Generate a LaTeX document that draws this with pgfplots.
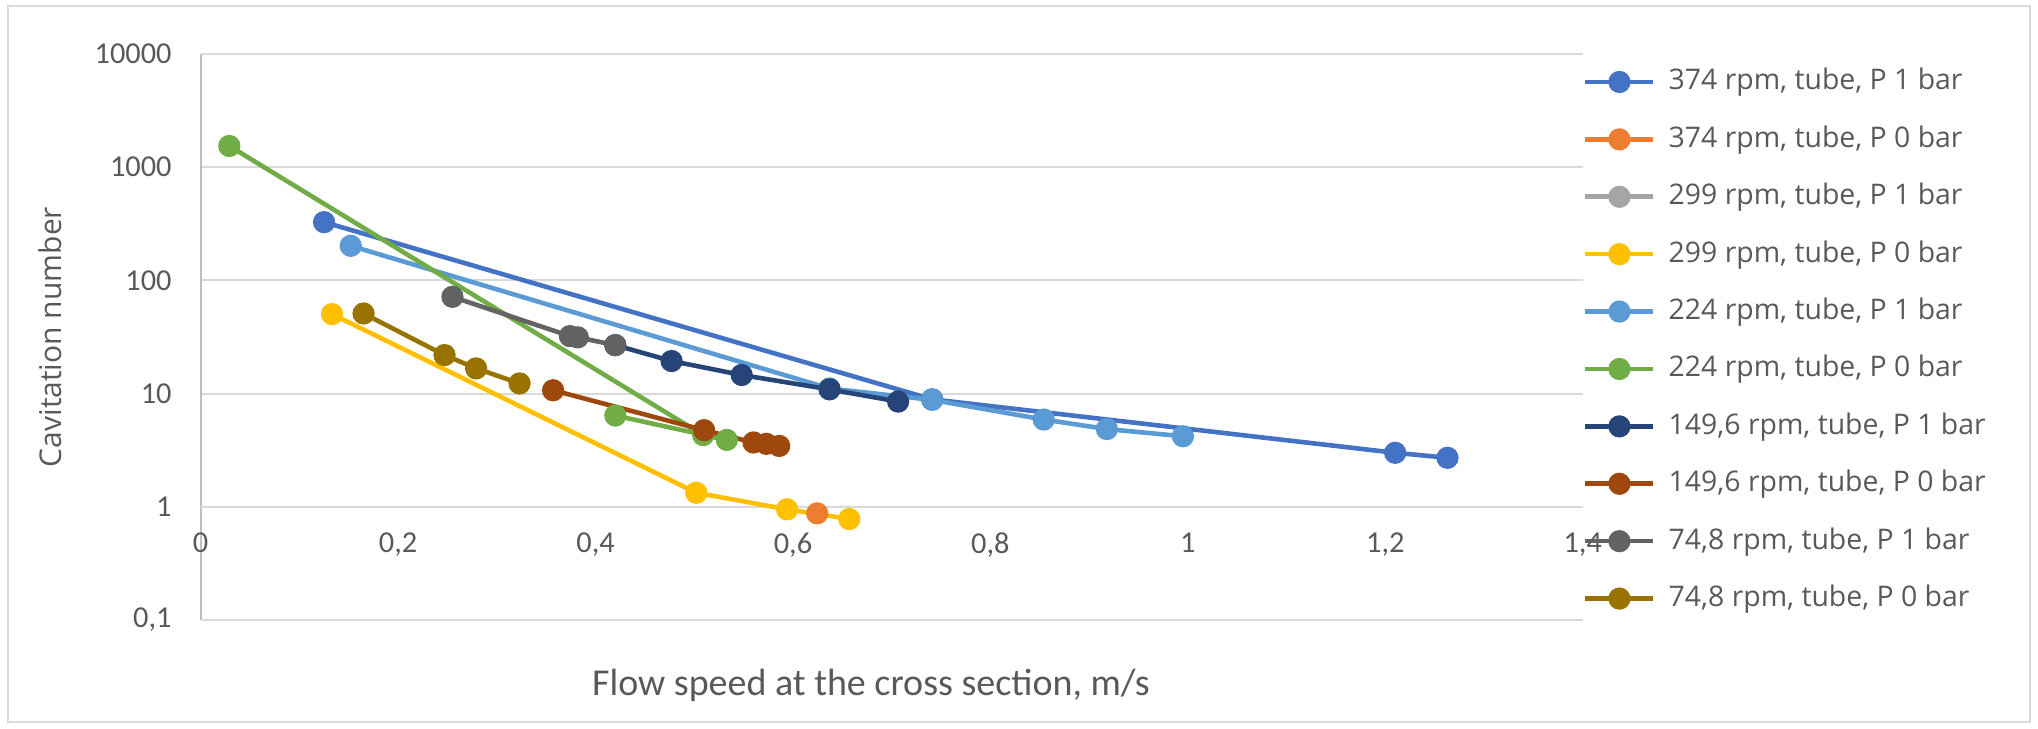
\documentclass[border=0pt]{standalone}
\usepackage{fontspec}
\setmainfont{Carlito}
\newfontfamily\osans{Open Sans}
\usepackage{pgfplots}
\pgfplotsset{compat=1.18}

\definecolor{cA}{HTML}{4472C4}
\definecolor{cB}{HTML}{ED7D31}
\definecolor{cC}{HTML}{A5A5A5}
\definecolor{cD}{HTML}{FFC000}
\definecolor{cE}{HTML}{5B9BD5}
\definecolor{cF}{HTML}{70AD47}
\definecolor{cG}{HTML}{264478}
\definecolor{cH}{HTML}{9E480E}
\definecolor{cI}{HTML}{636363}
\definecolor{cJ}{HTML}{997300}
\definecolor{gridgray}{HTML}{D9D9D9}
\definecolor{axisgray}{HTML}{BFBFBF}
\definecolor{txtgray}{HTML}{595959}

\begin{document}
\begin{tikzpicture}
\path[use as bounding box] (0,0) rectangle (1019pt,364pt);
\draw[draw=gridgray, line width=1pt] (4pt,3pt) rectangle (1015pt,361pt);
\begin{axis}[
    at={(100.35pt,337pt)}, anchor=north west,
    scale only axis, width=691pt, height=283pt,
    xmin=0, xmax=1.4, ymin=0.1, ymax=10000,
    ymode=log,
    axis lines*=left,
    x axis line style={draw=gridgray, line width=1pt},
    y axis line style={draw=axisgray, line width=1pt},
    xtick={0,0.2,0.4,0.6,0.8,1,1.2,1.4},
    xticklabels={0,{0,2},{0,4},{0,6},{0,8},1,{1,2},{1,4}},
    ytick={0.1,1,10,100,1000,10000},
    yticklabels={{0,1},1,10,100,1000,10000},
    yminorticks=false,
    major tick length=0pt,
    ymajorgrids,
    major grid style={draw=gridgray, line width=1pt},
    extra y ticks={1},
    extra y tick labels={},
    extra y tick style={grid style={draw=axisgray, line width=1pt}},
    tick label style={font=\fontsize{15.2}{17}\selectfont, text=txtgray},
    xticklabel style={yshift=47pt},
    yticklabel style={xshift=-11pt},
    xlabel={Flow speed at the cross section, m/s},
    xlabel style={at={(axis description cs:0.485,-0.115)}, anchor=center,
        font=\fontsize{19}{22}\selectfont, text=txtgray},
    ylabel={\osans Cavitation number},
    ylabel style={at={(axis description cs:-0.1086,0.5)}, anchor=center,
        font=\fontsize{15}{17}\selectfont, text=txtgray},
    every axis plot/.append style={line width=2.3pt, mark=*, mark size=4.4pt},
    legend cell align=left,
    legend style={at={(axis description cs:1.0,0.976)}, anchor=north west,
        draw=none, fill=none, inner sep=0pt,
        font=\osans\fontsize{14.2}{16}\selectfont, text=txtgray,
        nodes={inner sep=0pt, text height=11pt, text depth=3pt},
        row sep=14.7pt},
    /tikz/every odd column/.append style={column sep=6.5pt},
    legend image code/.code={
        \draw[mark repeat=2, mark phase=2, #1]
            plot coordinates {(0pt,0pt) (17pt,0pt) (34pt,0pt)};
    },
]
\addplot[color=cA] coordinates {
    (0.125,327) (0.741,8.9) (1.210,3.0) (1.263,2.71)
};
\addlegendentry{374 rpm, tube, P 1 bar}
\addplot[color=cB] coordinates {
    (0.6245,0.875)
};
\addlegendentry{374 rpm, tube, P 0 bar}
\addlegendimage{color=cC, line width=2.3pt, mark=*, mark size=4.4pt}
\addlegendentry{299 rpm, tube, P 1 bar}
\addplot[color=cD] coordinates {
    (0.133,50.4) (0.502,1.33) (0.594,0.95) (0.657,0.78)
};
\addlegendentry{299 rpm, tube, P 0 bar}
\addplot[color=cE] coordinates {
    (0.152,202) (0.637,11.1) (0.741,8.8) (0.854,5.9) (0.918,4.86) (0.995,4.2)
};
\addlegendentry{224 rpm, tube, P 1 bar}
\addplot[color=cF] coordinates {
    (0.029,1540) (0.509,4.3) (0.533,3.9) (0.420,6.4)
};
\addlegendentry{224 rpm, tube, P 0 bar}
\addplot[color=cG] coordinates {
    (0.420,26.8) (0.477,19.4) (0.548,14.6) (0.637,10.9) (0.7065,8.5)
};
\addlegendentry{149,6 rpm, tube, P 1 bar}
\addplot[color=cH] coordinates {
    (0.357,10.7) (0.510,4.75) (0.560,3.7) (0.573,3.6) (0.586,3.45)
};
\addlegendentry{149,6 rpm, tube, P 0 bar}
\addplot[color=cI] coordinates {
    (0.255,71.6) (0.374,32.2) (0.382,31.4) (0.420,26.8)
};
\addlegendentry{74,8 rpm, tube, P 1 bar}
\addplot[color=cJ] coordinates {
    (0.165,51) (0.247,21.9) (0.279,16.7) (0.323,12.3)
};
\addlegendentry{74,8 rpm, tube, P 0 bar}
\end{axis}
\end{tikzpicture}
\end{document}
